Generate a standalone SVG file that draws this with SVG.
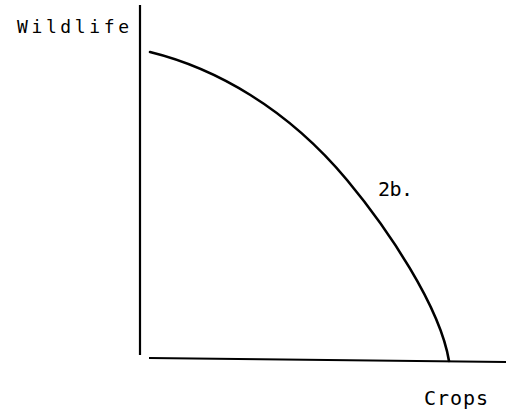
<svg xmlns="http://www.w3.org/2000/svg" width="506" height="417" viewBox="0 0 506 417">
<style>
.ax{stroke:#000;stroke-width:2.2;fill:none}
.cv{stroke:#000;stroke-width:2.6;fill:none;stroke-linecap:round}
.t{font-family:"DejaVu Sans Mono","Liberation Mono",monospace;fill:#000}
</style>
<rect width="506" height="417" fill="#fff"/>
<g id="connectors">
<line class="ax" x1="140" y1="5" x2="140" y2="355"/>
<path class="ax" d="M149,358 L506,362"/>
<path class="cv" d="M150,52 C215,68 287,108 347,180 C387,228 440,306 449,361"/>
</g>
<g id="label-wildlife"><text class="t" x="17" y="33" font-size="18" textLength="112" lengthAdjust="spacing">Wildlife</text></g>
<g id="label-2b"><text class="t" x="378" y="196" font-size="20" textLength="35" lengthAdjust="spacing">2b.</text></g>
<g id="label-crops"><text class="t" x="424" y="405" font-size="20" textLength="64" lengthAdjust="spacing">Crops</text></g>
</svg>
